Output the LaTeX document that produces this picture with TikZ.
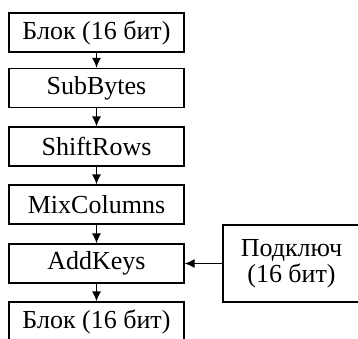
\documentclass[tikz,border=0pt]{standalone}
\usepackage{fontspec}
\setmainfont{Liberation Serif}
\usetikzlibrary{arrows.meta,positioning}

\begin{document}
\begin{tikzpicture}[x=0.5pt,y=-0.5pt,
  blk/.style={rectangle,draw=black,line width=.7pt,inner sep=0pt,
    minimum width=87.5pt,minimum height=19.5pt,
    font=\fontsize{13}{11.5}\selectfont},
  arr/.style={-{Latex[length=5pt,width=4.6pt]},line width=.7pt}]
  \useasboundingbox (0,0) rectangle (358,338);
  \node[blk] (in)  at (96.5,32.5)  {Блок (16 бит)};
  \node[blk] (sb)  at (96.5,88)    {SubBytes};
  \node[blk] (sr)  at (96.5,146.5) {ShiftRows};
  \node[blk] (mc)  at (96.5,204.5) {MixColumns};
  \node[blk] (ak)  at (96.5,263.5) {AddKeys};
  \node[blk] (out) at (96.5,321.5) {Блок (16 бит)};
  \node[blk,minimum width=68.5pt,minimum height=38.5pt,align=center]
    (key) at (291.5,263.5) {Подключ\\(16 бит)};
  \draw[arr] (in)  -- (sb);
  \draw[arr] (sb)  -- (sr);
  \draw[arr] (sr)  -- (mc);
  \draw[arr] (mc)  -- (ak);
  \draw[arr] (ak)  -- (out);
  \draw[arr] (key) -- (ak);
\end{tikzpicture}
\end{document}
